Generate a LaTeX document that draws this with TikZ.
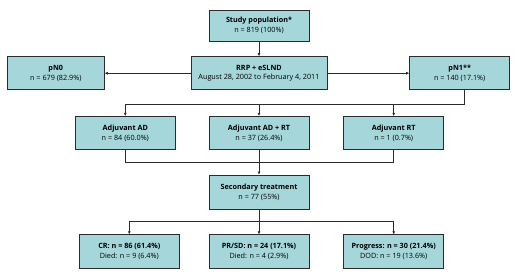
\documentclass[tikz,border=0pt]{standalone}
\usepackage{fontspec}
\setmainfont{Open Sans}
\usetikzlibrary{arrows.meta, positioning, calc}
\definecolor{flBox}{HTML}{A4D6DA}
\definecolor{flLine}{HTML}{2B2B2B}
\tikzset{
  flnode/.style={rectangle, draw=flLine, line width=1pt, fill=flBox, text=black,
                 font=\fontsize{10.3}{14}\selectfont, align=center,
                 minimum width=5cm, minimum height=1.65cm, inner sep=2pt},
  flline/.style={line width=0.9pt, color=flLine},
  flflow/.style={flline, -{Latex[length=1.6mm, width=1.5mm]}},
}
\begin{document}
\begin{tikzpicture}
  \useasboundingbox[fill=white] (0,0) rectangle (26,-13.85);
  \node[flnode, minimum height=1.55cm] (study) at (12.95,-1.275) {\textbf{Study population*}\\n = 819 (100\%)};
  \node[flnode, below=0.75cm of study, minimum width=6.8cm] (rrp) {\textbf{RRP + eSLND}\\August 28, 2002 to February 4, 2011};
  \node[flnode, left=4.3cm of rrp, minimum width=4.85cm] (pnzero) {\textbf{pN0}\\n = 679 (82.9\%)};
  \node[flnode, right=4.1cm of rrp] (pnone) {\textbf{pN1**}\\n = 140 (17.1\%)};
  \node[flnode, below=1.3cm of rrp] (adadrt) {\textbf{Adjuvant AD + RT}\\n = 37 (26.4\%)};
  \node[flnode, left=1.65cm of adadrt] (adad) {\textbf{Adjuvant AD}\\n = 84 (60.0\%)};
  \node[flnode, right=1.7cm of adadrt] (adrt) {\textbf{Adjuvant RT}\\n = 1 (0.7\%)};
  \node[flnode, below=1.25cm of adadrt, minimum height=1.7cm] (second) {\textbf{Secondary treatment}\\n = 77 (55\%)};
  \node[flnode, below=1.25cm of second, minimum height=1.7cm] (prsd) {\textbf{PR/SD: n = 24 (17.1\%)}\\Died: n = 4 (2.9\%)};
  \node[flnode, left=1.45cm of prsd, minimum height=1.7cm] (cr) {\textbf{CR: n = 86 (61.4\%)}\\Died: n = 9 (6.4\%)};
  \node[flnode, right=1.7cm of prsd, minimum height=1.7cm] (prog) {\textbf{Progress: n = 30 (21.4\%)}\\DOD: n = 19 (13.6\%)};
  % top part
  \draw[flflow] (study) -- (rrp);
  \draw[flflow] (rrp) -- (pnzero);
  \draw[flflow] (rrp) -- (pnone);
  % pN1 split to adjuvant therapies
  \coordinate (splitone) at ($(pnone.south)+(0.25,-0.7)$);
  \draw[flline] ($(pnone.south)+(0.25,0)$) -- (splitone);
  \draw[flflow] (splitone) -| (adad);
  \draw[flflow] (splitone -| adadrt) -- (adadrt);
  \draw[flflow] (splitone) -| (adrt);
  % merge into secondary treatment
  \coordinate (merge) at ($(adadrt.south)+(0,-0.65)$);
  \draw[flline] (adad.south) |- (merge) -| (adrt.south);
  \draw[flflow] (adadrt) -- (second);
  % outcome split
  \coordinate (splittwo) at ($(second.south)+(0,-0.6)$);
  \draw[flflow] (splittwo) -| (cr);
  \draw[flflow] (splittwo) -| (prog);
  \draw[flflow] (second) -- (prsd);
\end{tikzpicture}
\end{document}
